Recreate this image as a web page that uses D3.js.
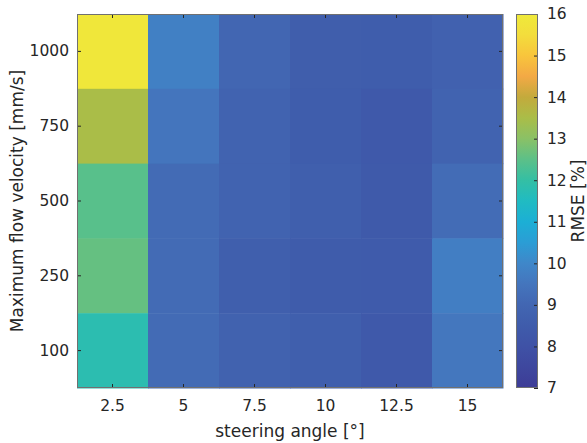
<!DOCTYPE html>
<html><head><meta charset="utf-8">
<script src="https://cdn.jsdelivr.net/npm/d3@7"></script>
<style>body{margin:0;background:#fff}svg{display:block}text{font-family:"DejaVu Sans",sans-serif;fill:#262626}</style>
</head><body><svg id="c" width="587" height="443"></svg>
<script>
const angles = ["2.5","5","7.5","10","12.5","15"];
const velocities = ["1000","750","500","250","100"];
const rmse = [
  [15.9, 9.8, 9.0, 8.6, 8.55, 8.75],
  [13.5, 9.5, 8.85, 8.55, 8.35, 8.85],
  [12.45, 9.15, 8.85, 8.65, 8.4, 9.2],
  [12.6, 9.15, 8.65, 8.5, 8.45, 9.75],
  [11.8, 9.15, 8.8, 8.65, 8.35, 9.55]
];
const cbTicks = [7,8,9,10,11,12,13,14,15,16];
const cmapVals = [7,8,8.5,9,9.5,10,10.5,11,11.5,12,12.5,13,13.5,14,14.5,15,15.5,16];
const cmapCols = ["#3d3c96","#3f52a6","#3f5cab","#4266b2","#4475bd","#3f87c9","#2b9dd5","#1cafd5","#20bbc2","#34bfa4","#5cc088","#8ac166","#aabd48","#c3aa3c","#f3a945","#f8c53c","#f3dd3c","#efea3a"];

const svg = d3.select("#c");
const L=77,R=503,T=14,B=388;
const x = d3.scaleBand().domain(angles).range([L,R]);
const y = d3.scaleBand().domain(velocities).range([T,B]);
const color = d3.scaleLinear().domain(cmapVals).range(cmapCols).clamp(true);

const cells = [];
velocities.forEach((v,i)=>angles.forEach((a,j)=>cells.push({a,v,val:rmse[i][j]})));
svg.append("g").selectAll("rect").data(cells).join("rect")
  .attr("x",d=>x(d.a)).attr("y",d=>y(d.v))
  .attr("width",x.bandwidth()+0.5).attr("height",y.bandwidth()+0.5)
  .attr("fill",d=>color(d.val));

const axCol="#707070";
const tickFs="15.5px", labFs="17px";
function styleAxis(g){g.select(".domain").remove();g.selectAll(".tick line").attr("stroke","#262626");g.selectAll("text").style("font-size",tickFs).attr("fill","#262626");}
svg.append("g").attr("transform",`translate(0,${B})`).call(d3.axisBottom(x).tickSize(-4).tickPadding(12)).call(styleAxis);
svg.append("g").attr("transform",`translate(0,${T})`).call(d3.axisTop(x).tickSize(-4).tickFormat("")).call(styleAxis);
svg.append("g").attr("transform",`translate(${L},0)`).call(d3.axisLeft(y).tickSize(-4).tickPadding(8)).call(styleAxis);
svg.append("g").attr("transform",`translate(${R},0)`).call(d3.axisRight(y).tickSize(-4).tickFormat("")).call(styleAxis);
svg.append("rect").attr("x",L+0.5).attr("y",T+0.5).attr("width",R-L-1).attr("height",B-T-1).attr("fill","none").attr("stroke",axCol);

svg.append("text").attr("x",(L+R)/2).attr("y",437).attr("text-anchor","middle").style("font-size",labFs).text("steering angle [°]");
svg.append("text").attr("transform",`translate(23,${(T+B)/2}) rotate(-90)`).attr("text-anchor","middle").style("font-size",labFs).text("Maximum flow velocity [mm/s]");

// colorbar
const CL=516,CR=538;
const cy = d3.scaleLinear().domain([7,16]).range([B,T]);
const defs = svg.append("defs");
const grad = defs.append("linearGradient").attr("id","g").attr("x1",0).attr("y1",1).attr("x2",0).attr("y2",0);
cmapVals.forEach((v,i)=>grad.append("stop").attr("offset",(v-7)/9).attr("stop-color",cmapCols[i]));
svg.append("rect").attr("x",CL).attr("y",T).attr("width",CR-CL).attr("height",B-T).attr("fill","url(#g)");
svg.append("g").attr("transform",`translate(${CR},0)`).call(d3.axisRight(cy).tickValues(cbTicks).tickSize(-4).tickPadding(9)).call(styleAxis);
svg.append("rect").attr("x",CL+0.5).attr("y",T+0.5).attr("width",CR-CL-1).attr("height",B-T-1).attr("fill","none").attr("stroke",axCol);
svg.append("text").attr("transform",`translate(584,${(T+B)/2}) rotate(-90)`).attr("text-anchor","middle").style("font-size",labFs).text("RMSE [%]");
</script></body></html>
